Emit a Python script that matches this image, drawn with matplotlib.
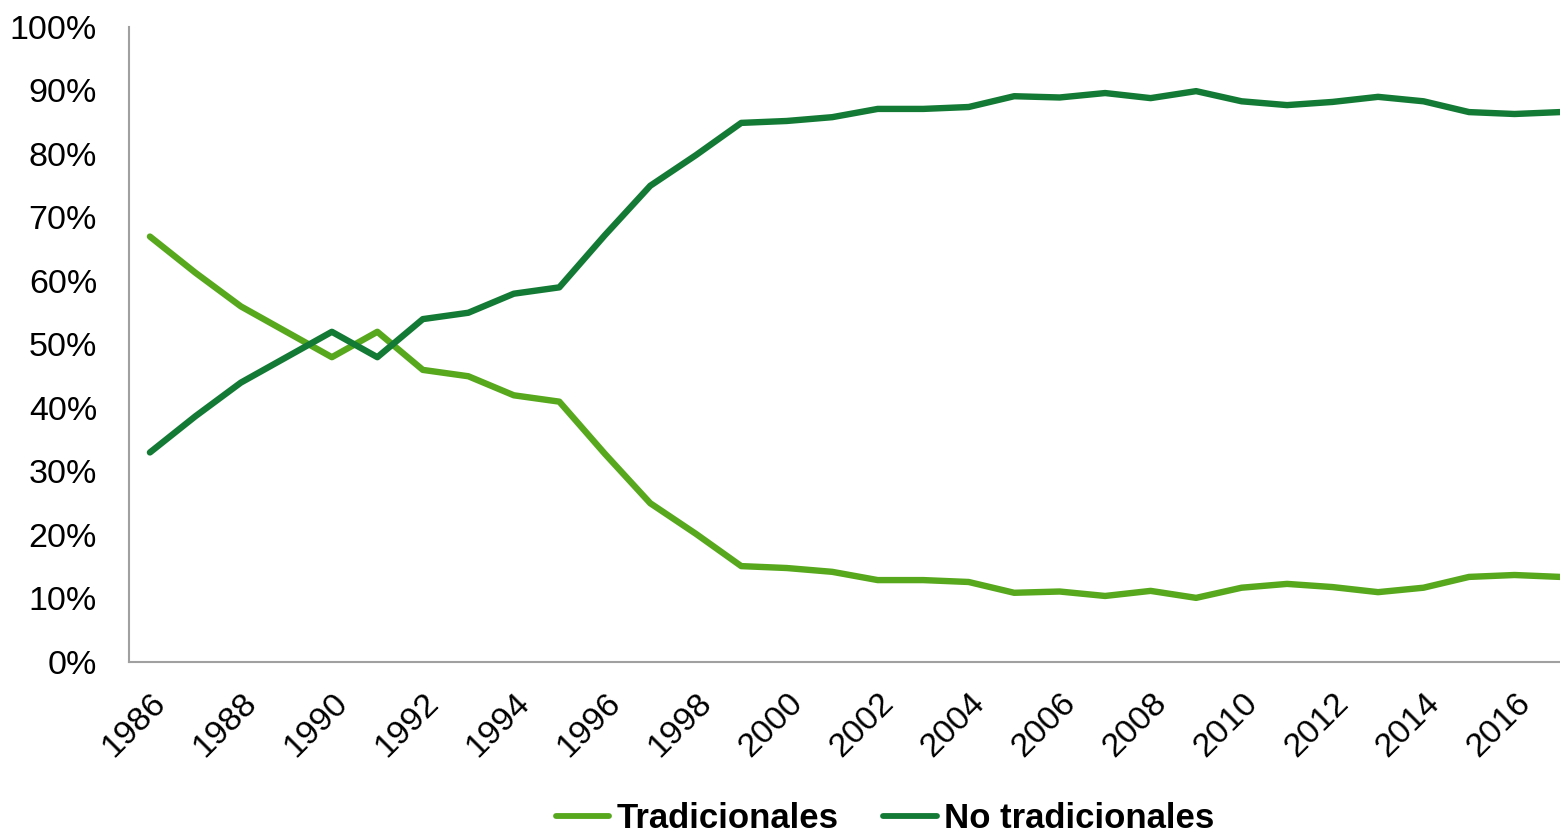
import matplotlib
matplotlib.use("Agg")
import matplotlib.pyplot as plt
from matplotlib.ticker import FuncFormatter

years = list(range(1986, 2018))
tradicionales = [67, 61.3, 56, 52, 48, 52, 46, 45, 42, 41, 32.8, 25, 20.2, 15.1,
                 14.8, 14.2, 12.9, 12.9, 12.6, 10.9, 11.1, 10.4, 11.2, 10.1,
                 11.7, 12.3, 11.8, 11.0, 11.7, 13.4, 13.7, 13.4]
no_tradicionales = [33, 38.7, 44, 48, 52, 48, 54, 55, 58, 59, 67.2, 75, 79.8, 84.9,
                    85.2, 85.8, 87.1, 87.1, 87.4, 89.1, 88.9, 89.6, 88.8, 89.9,
                    88.3, 87.7, 88.2, 89.0, 88.3, 86.6, 86.3, 86.6]
tick_years = list(range(1986, 2018, 2))
y_ticks = list(range(0, 101, 10))

plt.rcParams['font.family'] = ['Liberation Sans', 'DejaVu Sans']

fig = plt.figure(figsize=(15.6, 8.33), dpi=100)
ax = fig.add_axes([129/1560, 1 - 662/833, 1 - 129/1560, (662 - 27)/833])

c_light = '#57a81c'
c_dark = '#137a35'
ax.plot(years, tradicionales, color=c_light, lw=4.6, label='Tradicionales',
        solid_joinstyle='round', solid_capstyle='round')
ax.plot(years, no_tradicionales, color=c_dark, lw=4.6, label='No tradicionales',
        solid_joinstyle='round', solid_capstyle='round')

ax.set_xlim(1985.54, 2017.0)
ax.set_ylim(0, 100)
ax.set_yticks(y_ticks)
ax.yaxis.set_major_formatter(FuncFormatter(lambda v, p: f"{int(v)}%"))
ax.set_xticks(tick_years)
ax.set_xticklabels([str(y) for y in tick_years], rotation=45, ha='right',
                   rotation_mode='anchor')
ax.tick_params(axis='both', length=0, labelsize=24.5, colors='black')
ax.tick_params(axis='x', pad=18)
ax.tick_params(axis='y', pad=23)

for s in ['top', 'right']:
    ax.spines[s].set_visible(False)
for s in ['left', 'bottom']:
    ax.spines[s].set_color('#a0a0a0')
    ax.spines[s].set_linewidth(1.5)

leg = fig.legend(loc='center', bbox_to_anchor=(885/1560, 1 - 819/833), ncol=2,
                 frameon=False, handlelength=1.55, handletextpad=0.2,
                 columnspacing=1.3, prop={'weight': 'bold', 'size': 25})
for line in leg.get_lines():
    line.set_linewidth(4.2)

fig.savefig('out.png', dpi=100)
